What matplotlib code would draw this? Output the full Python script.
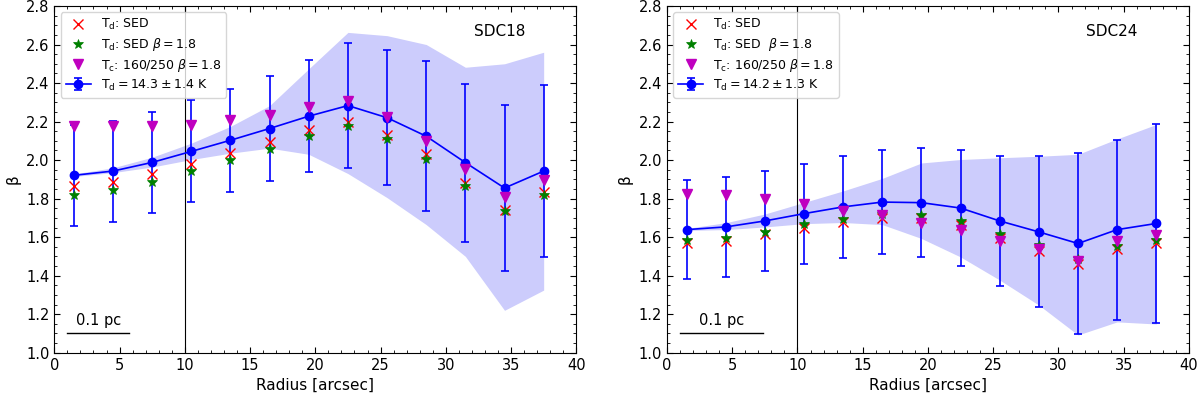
import matplotlib
matplotlib.use("Agg")
import matplotlib.pyplot as plt
from matplotlib.ticker import MultipleLocator, FormatStrFormatter

radius = [1.5, 4.5, 7.5, 10.5, 13.5, 16.5, 19.5, 22.5, 25.5, 28.5, 31.5, 34.5, 37.5]

# SDC18
sdc18_sed = [1.864, 1.886, 1.929, 1.981, 2.036, 2.093, 2.154, 2.197, 2.132, 2.030, 1.881, 1.743, 1.834]
sdc18_sed_b18 = [1.817, 1.843, 1.886, 1.941, 1.998, 2.059, 2.124, 2.175, 2.107, 2.007, 1.865, 1.734, 1.817]
sdc18_col = [2.176, 2.175, 2.175, 2.183, 2.209, 2.232, 2.275, 2.309, 2.226, 2.100, 1.955, 1.808, 1.895]
sdc18_beta = [1.921, 1.943, 1.988, 2.045, 2.103, 2.164, 2.228, 2.283, 2.220, 2.124, 1.987, 1.855, 1.943]
sdc18_err = [0.263, 0.262, 0.261, 0.265, 0.268, 0.274, 0.290, 0.323, 0.350, 0.390, 0.410, 0.433, 0.447]
sdc18_lo = [1.915, 1.935, 1.964, 2.003, 2.036, 2.062, 2.030, 1.930, 1.805, 1.665, 1.500, 1.220, 1.325]
sdc18_hi = [1.928, 1.960, 2.015, 2.088, 2.175, 2.283, 2.474, 2.663, 2.646, 2.600, 2.482, 2.500, 2.560]

# SDC24
sdc24_sed = [1.567, 1.580, 1.615, 1.650, 1.679, 1.700, 1.700, 1.665, 1.593, 1.527, 1.458, 1.537, 1.567]
sdc24_sed_b18 = [1.584, 1.596, 1.627, 1.667, 1.696, 1.722, 1.717, 1.684, 1.615, 1.558, 1.489, 1.554, 1.584]
sdc24_col = [1.826, 1.817, 1.796, 1.774, 1.736, 1.713, 1.671, 1.636, 1.579, 1.536, 1.477, 1.580, 1.610]
sdc24_beta = [1.639, 1.653, 1.684, 1.722, 1.757, 1.782, 1.779, 1.751, 1.684, 1.627, 1.567, 1.639, 1.671]
sdc24_err = [0.258, 0.260, 0.259, 0.260, 0.265, 0.269, 0.282, 0.300, 0.336, 0.392, 0.472, 0.467, 0.517]
sdc24_lo = [1.635, 1.639, 1.653, 1.670, 1.676, 1.665, 1.593, 1.497, 1.377, 1.247, 1.092, 1.160, 1.149]
sdc24_hi = [1.645, 1.675, 1.720, 1.780, 1.840, 1.905, 1.985, 2.003, 2.012, 2.020, 2.030, 2.110, 2.185]

panels = [
    dict(name="SDC18", sed=sdc18_sed, sedb=sdc18_sed_b18, col=sdc18_col, beta=sdc18_beta,
         err=sdc18_err, lo=sdc18_lo, hi=sdc18_hi,
         lab2=r"T$_\mathrm{d}$: SED $\beta=1.8$",
         lab4=r"T$_\mathrm{d}=14.3\pm1.4$ K", bar=(1.0, 5.75)),
    dict(name="SDC24", sed=sdc24_sed, sedb=sdc24_sed_b18, col=sdc24_col, beta=sdc24_beta,
         err=sdc24_err, lo=sdc24_lo, hi=sdc24_hi,
         lab2=r"T$_\mathrm{d}$: SED  $\beta=1.8$",
         lab4=r"T$_\mathrm{d}=14.2\pm1.3$ K", bar=(1.03, 7.33)),
]

fig = plt.figure(figsize=(12, 3.95), dpi=100)
lefts = [0.04525, 0.5558]
for left, p in zip(lefts, panels):
    ax = fig.add_axes([left, 0.1071, 0.435, 0.8777])
    ax.fill_between(radius, p["lo"], p["hi"], color=(0.8, 0.8, 0.99), lw=0, zorder=1)
    ax.axvline(10, color='k', lw=0.8, zorder=1.5)
    ax.errorbar(radius, p["beta"], yerr=p["err"], color='b', marker='o', ms=6,
                lw=1.2, elinewidth=1.2, capsize=3, capthick=1.2, zorder=2,
                label=p["lab4"])
    ax.plot(radius, p["sed"], 'x', color='r', ms=7, mew=1.0, zorder=3,
            label=r"T$_\mathrm{d}$: SED")
    ax.plot(radius, p["sedb"], '*', color='g', ms=7, mew=0.5, zorder=3.1,
            label=p["lab2"])
    ax.plot(radius, p["col"], 'v', color='m', ms=7, zorder=3.2,
            label=r"T$_\mathrm{c}$: 160/250 $\beta=1.8$")
    ax.plot(list(p["bar"]), [1.10, 1.10], color='k', lw=1)
    ax.text(0.5 * (p["bar"][0] + p["bar"][1]), 1.13, "0.1 pc", ha='center',
            va='bottom', fontsize=10.5)
    ax.text(34.1, 2.67, p["name"], ha='center', va='center', fontsize=11)
    ax.set_xlim(0, 40)
    ax.set_ylim(1.0, 2.8)
    ax.xaxis.set_major_locator(MultipleLocator(5))
    ax.xaxis.set_minor_locator(MultipleLocator(1))
    ax.yaxis.set_major_locator(MultipleLocator(0.2))
    ax.yaxis.set_minor_locator(MultipleLocator(0.05))
    ax.yaxis.set_major_formatter(FormatStrFormatter('%.1f'))
    ax.tick_params(which='both', direction='in', top=True, right=True, labelsize=10.5)
    ax.tick_params(which='major', length=4.5)
    ax.tick_params(which='minor', length=2.5)
    ax.set_xlabel("Radius [arcsec]", fontsize=11)
    ax.set_ylabel("β", fontsize=11)
    ax.legend(loc='upper left', fontsize=9, handletextpad=0.8, labelspacing=0.3)

fig.savefig("out.png", dpi=100)
